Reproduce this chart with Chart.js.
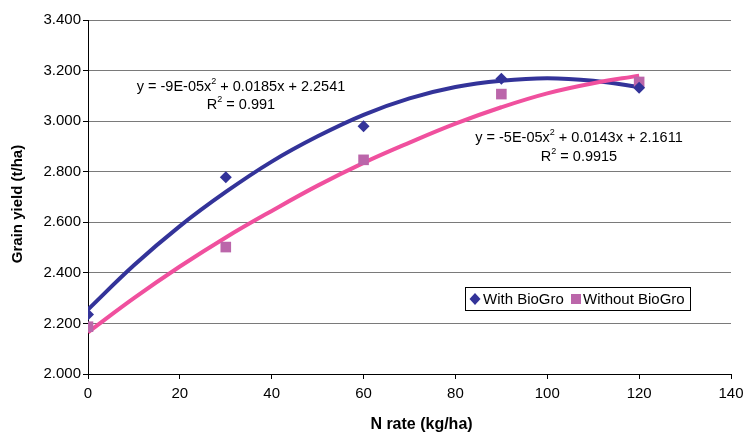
<!DOCTYPE html>
<html>
<head>
<meta charset="utf-8">
<script src="https://cdn.jsdelivr.net/npm/chart.js@4"></script>
<style>
  body { margin: 0; background: #fff; }
  #wrap { width: 745px; height: 432px; }
</style>
</head>
<body>
<div id="wrap"><canvas id="chart" width="745" height="432"></canvas></div>
<script>
// measured values
let nRate = [0, 30, 60, 90, 120];
let withBioGro = [2.235, 2.778, 2.98, 3.168, 3.132];
let withoutBioGro = [2.187, 2.502, 2.847, 3.107, 3.155];

// trendlines
let trendX = [0, 10, 20, 30, 40, 50, 60, 70, 80, 90, 100, 110, 120];
let trendWith = [2.255, 2.43, 2.585, 2.72, 2.84, 2.94, 3.025, 3.09, 3.135, 3.16, 3.17, 3.16, 3.135];
let trendWithout = [2.165, 2.30, 2.425, 2.54, 2.645, 2.745, 2.835, 2.915, 2.99, 3.055, 3.11, 3.15, 3.18];

let eqWith = ["y = -9E-05x", "2", " + 0.0185x + 2.2541"];
let r2With = "0.991";
let eqWithout = ["y = -5E-05x", "2", " + 0.0143x + 2.1611"];
let r2Without = "0.9915";

let legendLabels = ["With BioGro", "Without BioGro"];
let xTitle = "N rate (kg/ha)";
let yTitle = "Grain yield (t/ha)";

let blue = "#333399";
let pink = "#f0509e";
let squareColor = "#bb66aa";

let fontFamily = "'Liberation Sans', Arial, sans-serif";
let mainFont = "14.5px " + fontFamily;
let supFont = "9px " + fontFamily;

function pts(xs, ys) {
    return xs.map(function (x, i) { return { x: x, y: ys[i] }; });
}

function drawSup(ctx, parts, cx, y) {
    ctx.font = mainFont;
    let w0 = ctx.measureText(parts[0]).width;
    let w2 = ctx.measureText(parts[2]).width;
    ctx.font = supFont;
    let w1 = ctx.measureText(parts[1]).width;
    let x = cx - (w0 + w1 + w2) / 2;
    ctx.font = mainFont;
    ctx.fillText(parts[0], x, y);
    ctx.font = supFont;
    ctx.fillText(parts[1], x + w0, y - 5);
    ctx.font = mainFont;
    ctx.fillText(parts[2], x + w0 + w1, y);
}

function drawEquation(ctx, parts, r2, cx, y1, y2) {
    ctx.textAlign = "left";
    ctx.textBaseline = "middle";
    ctx.fillStyle = "#000";
    drawSup(ctx, parts, cx, y1);
    drawSup(ctx, ["R", "2", " = " + r2], cx, y2);
}

let extras = {
    id: "extras",
    afterDraw: function (chart) {
        let ctx = chart.ctx;
        ctx.save();
        drawEquation(ctx, eqWith, r2With, 241, 87, 105);
        drawEquation(ctx, eqWithout, r2Without, 579, 138, 157);

        // axis titles
        ctx.fillStyle = "#000";
        ctx.textAlign = "center";
        ctx.textBaseline = "alphabetic";
        ctx.font = "bold 16px " + fontFamily;
        ctx.fillText(xTitle, 421.5, 429);
        ctx.save();
        ctx.translate(22, 204);
        ctx.rotate(-Math.PI / 2);
        ctx.font = "bold 15px " + fontFamily;
        ctx.fillText(yTitle, 0, 0);
        ctx.restore();

        // legend box
        ctx.fillStyle = "#fff";
        ctx.fillRect(465.5, 287.5, 225, 23);
        ctx.strokeStyle = "#000";
        ctx.lineWidth = 1;
        ctx.strokeRect(465.5, 287.5, 225, 23);

        ctx.fillStyle = blue;
        ctx.beginPath();
        ctx.moveTo(475, 293);
        ctx.lineTo(480.5, 299);
        ctx.lineTo(475, 305);
        ctx.lineTo(469.5, 299);
        ctx.closePath();
        ctx.fill();

        ctx.fillStyle = squareColor;
        ctx.fillRect(571, 294, 10, 10);

        ctx.fillStyle = "#000";
        ctx.font = "15px " + fontFamily;
        ctx.textAlign = "left";
        ctx.textBaseline = "middle";
        ctx.fillText(legendLabels[0], 483, 299.5);
        ctx.fillText(legendLabels[1], 583, 299.5);
        ctx.restore();
    }
};

let ctx = document.getElementById("chart").getContext("2d");

let chart = new Chart(ctx, {
    type: "scatter",
    data: {
        datasets: [
            {
                label: legendLabels[0],
                data: pts(nRate, withBioGro),
                pointStyle: "rectRot",
                pointRadius: 6,
                backgroundColor: blue,
                borderColor: blue,
                borderWidth: 0,
                order: 0
            },
            {
                label: legendLabels[1],
                data: pts(nRate, withoutBioGro),
                pointStyle: "rect",
                pointRadius: 7.5,
                backgroundColor: squareColor,
                borderColor: squareColor,
                borderWidth: 0,
                order: 0
            },
            {
                label: "trend without",
                data: pts(trendX, trendWithout),
                showLine: true,
                pointRadius: 0,
                borderColor: pink,
                borderWidth: 4,
                tension: 0.4,
                order: 1
            },
            {
                label: "trend with",
                data: pts(trendX, trendWith),
                showLine: true,
                pointRadius: 0,
                borderColor: blue,
                borderWidth: 4,
                tension: 0.4,
                order: 2
            }
        ]
    },
    options: {
        responsive: false,
        animation: false,
        layout: { padding: { top: 20, right: 14, left: 0, bottom: 0 } },
        plugins: {
            legend: { display: false },
            tooltip: { enabled: false }
        },
        scales: {
            x: {
                type: "linear",
                min: 0,
                max: 140,
                afterFit: function (s) {
                    s.height = 58;
                    s.paddingLeft = 0;
                    s.paddingRight = 0;
                },
                ticks: {
                    stepSize: 20,
                    color: "#000",
                    padding: 6,
                    font: { family: fontFamily, size: 15 }
                },
                grid: {
                    drawOnChartArea: false,
                    drawTicks: true,
                    tickLength: 5,
                    tickColor: "#000"
                },
                border: { color: "#000", width: 1 },
                title: { display: false }
            },
            y: {
                min: 2,
                max: 3.4,
                afterFit: function (s) { s.width = 88; },
                ticks: {
                    stepSize: 0.2,
                    color: "#000",
                    padding: 2,
                    font: { family: fontFamily, size: 15 },
                    callback: function (v) { return v.toFixed(3); }
                },
                grid: {
                    color: "#7a7a7a",
                    lineWidth: 1,
                    drawTicks: true,
                    tickLength: 5,
                    tickColor: "#000"
                },
                border: { color: "#000", width: 1 },
                title: { display: false }
            }
        }
    },
    plugins: [extras]
});
</script>
</body>
</html>
